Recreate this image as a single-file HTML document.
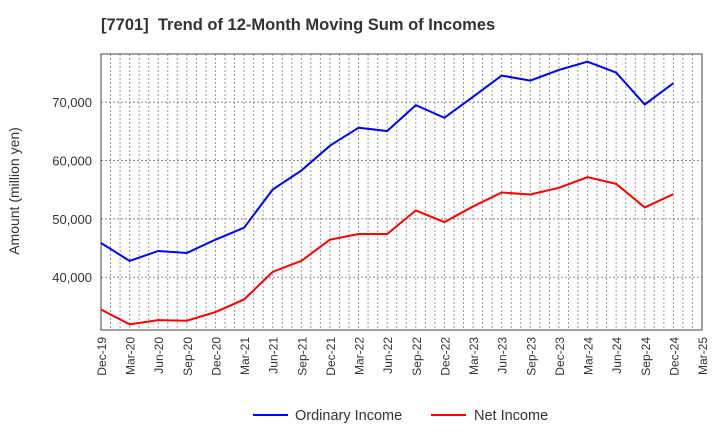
<!DOCTYPE html>
<html><head><meta charset="utf-8"><style>
body{margin:0;background:#fff;}
svg{display:block;font-family:"Liberation Sans",sans-serif;}
</style></head><body>
<svg id="chart" width="720" height="440">
<text x="101" y="30" font-size="16.5" font-weight="bold" fill="#333">[7701]&#160; Trend of 12-Month Moving Sum of Incomes</text>
<g id="grid"></g>
<g id="axes"></g>
<g id="series"></g>
<text transform="translate(19,191) rotate(-90)" text-anchor="middle" font-size="14" fill="#333">Amount (million yen)</text>
<g>
<line x1="253" y1="415" x2="288" y2="415" stroke="#0000ff" stroke-width="2"/>
<text x="295" y="420" font-size="14.5" fill="#333">Ordinary Income</text>
<line x1="431" y1="415" x2="466" y2="415" stroke="#ff0000" stroke-width="2"/>
<text x="474" y="420" font-size="14.5" fill="#333">Net Income</text>
</g>
</svg>
<script>
const categories=["Dec-19","Mar-20","Jun-20","Sep-20","Dec-20","Mar-21","Jun-21","Sep-21","Dec-21","Mar-22","Jun-22","Sep-22","Dec-22","Mar-23","Jun-23","Sep-23","Dec-23","Mar-24","Jun-24","Sep-24","Dec-24","Mar-25"];
const ordinaryIncome=[45870,42800,44500,44160,46440,48490,55030,58280,62540,65620,65050,69490,67330,70910,74550,73700,75520,76940,75060,69600,73240];
const netIncome=[34480,31920,32660,32550,34030,36190,40920,42800,46440,47400,47400,51450,49450,52130,54520,54180,55320,57140,56000,51960,54240];
const yTicks=[40000,50000,60000,70000];
const yMin=30960,yMax=78250;
const L=101,R=702,T=54,B=330;
const NS="http://www.w3.org/2000/svg";
const x=i=>L+(R-L)*i/(categories.length-1);
const y=v=>B-(v-yMin)/(yMax-yMin)*(B-T);
function mk(tag,attrs,parent){const e=document.createElementNS(NS,tag);for(const k in attrs)e.setAttribute(k,attrs[k]);parent.appendChild(e);return e;}
const grid=document.getElementById('grid'),axes=document.getElementById('axes'),series=document.getElementById('series');
const months=(categories.length-1)*3;
for(let m=1;m<months;m++){const xx=L+(R-L)*m/months;
const g=mk('line',{x1:xx,x2:xx,y1:T,y2:B,stroke:'#999','stroke-width':1,'stroke-dasharray':'2,2'},grid);

}
yTicks.forEach(t=>{const yy=y(t);
const g=mk('line',{x1:L,x2:R,y1:yy,y2:yy,stroke:'#888','stroke-width':1,'stroke-dasharray':'2,2'},grid);


const tx=mk('text',{x:L-9,y:yy+5,'text-anchor':'end','font-size':13,fill:'#333'},axes);
tx.textContent=t.toLocaleString('en-US');

});
categories.forEach((c,i)=>{const xx=x(i);
const tx=mk('text',{transform:`translate(${xx+5},${B+7}) rotate(-90)`,'text-anchor':'end','font-size':12,fill:'#333'},axes);
tx.textContent=c;

});
const frame=mk('rect',{x:L,y:T,width:R-L,height:B-T,fill:'none',stroke:'#444','stroke-width':1},axes);


function line(data,color,name){const p=mk('polyline',{points:data.map((v,i)=>x(i)+','+y(v)).join(' '),fill:'none',stroke:color,'stroke-width':2},series);

}
line(ordinaryIncome,'#0000ff','ordinary-income-line');
line(netIncome,'#ff0000','net-income-line');
</script>
</body></html>
